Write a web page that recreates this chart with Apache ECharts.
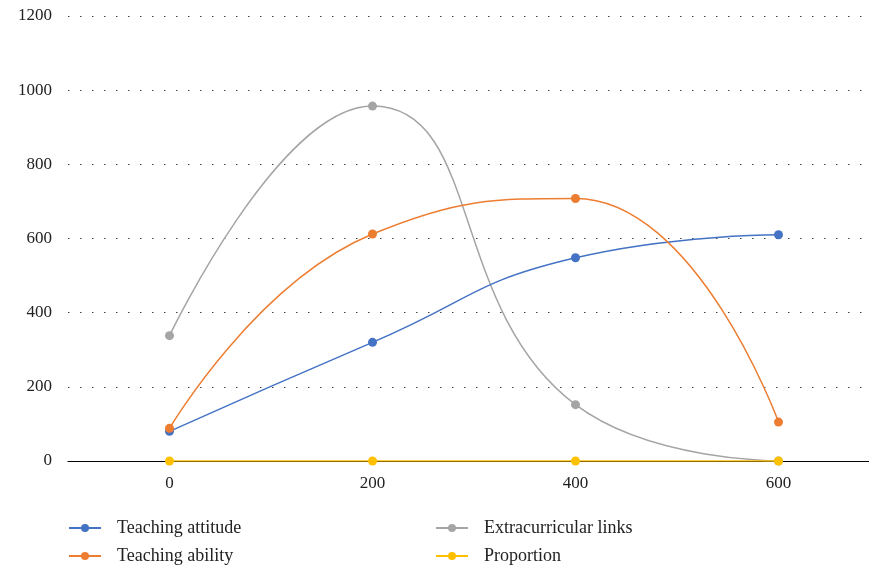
<!DOCTYPE html>
<html>
<head>
<meta charset="utf-8">
<script src="https://cdn.jsdelivr.net/npm/echarts@6/dist/echarts.min.js"></script>
<style>html,body{margin:0;padding:0;background:#fff}#c{width:869px;height:569px}</style>
</head>
<body>
<div id="c"></div>
<script>
const categories = ['0', '200', '400', '600'];
const yTicks = [0, 200, 400, 600, 800, 1000, 1200];
const teachingAttitude = [80, 320, 548, 610];
const teachingAbility = [88, 612, 708, 105];
const extracurricularLinks = [338, 957, 152, 0];
const proportion = [0, 0, 0, 0];
const seriesNames = ['Teaching attitude', 'Teaching ability', 'Extracurricular links', 'Proportion'];

const FONT = '"Liberation Serif", "DejaVu Serif", serif';
const chart = echarts.init(document.getElementById('c'), null, {renderer: 'canvas'});

function mk(name, data, color, z) {
  return {
    name, type: 'line', data, smooth: 0.5, z,
    symbol: 'circle', symbolSize: 9,
    lineStyle: {color, width: 1.5},
    itemStyle: {color},
    emphasis: {disabled: true}
  };
}
function lg(name, left, top) {
  return {
    left, top, orient: 'horizontal', padding: 0,
    itemWidth: 32, itemHeight: 10,
    data: [name],
    textStyle: {fontSize: 18, fontFamily: FONT, color: '#222', padding: [0, 0, 0, 11]}
  };
}

chart.setOption({
  animation: false,
  backgroundColor: '#fff',
  textStyle: {fontFamily: FONT},
  grid: {left: 68, width: 812, top: 16, height: 445, containLabel: false, outerBoundsMode: 'none'},
  xAxis: {
    type: 'category', data: categories, boundaryGap: true,
    axisLine: {lineStyle: {color: '#000', width: 1.2}},
    axisTick: {show: false},
    axisLabel: {color: '#222', fontSize: 17, fontFamily: FONT, margin: 14}
  },
  yAxis: {
    type: 'value', min: yTicks[0], max: yTicks[yTicks.length - 1], interval: 200,
    axisLine: {show: false}, axisTick: {show: false},
    axisLabel: {color: '#222', fontSize: 17, fontFamily: FONT, margin: 16, formatter: v => String(v)},
    splitLine: {lineStyle: {color: '#444', type: [1.5, 10.5], width: 1.2}}
  },
  legend: [
    lg(seriesNames[0], 68, 519),
    lg(seriesNames[1], 68, 547),
    lg(seriesNames[2], 435, 519),
    lg(seriesNames[3], 435, 547)
  ],
  series: [
    mk(seriesNames[0], teachingAttitude, '#4472C4', 3),
    mk(seriesNames[1], teachingAbility, '#ED7D31', 4),
    mk(seriesNames[2], extracurricularLinks, '#A5A5A5', 2),
    mk(seriesNames[3], proportion, '#FFC000', 5)
  ]
});
</script>
</body>
</html>
